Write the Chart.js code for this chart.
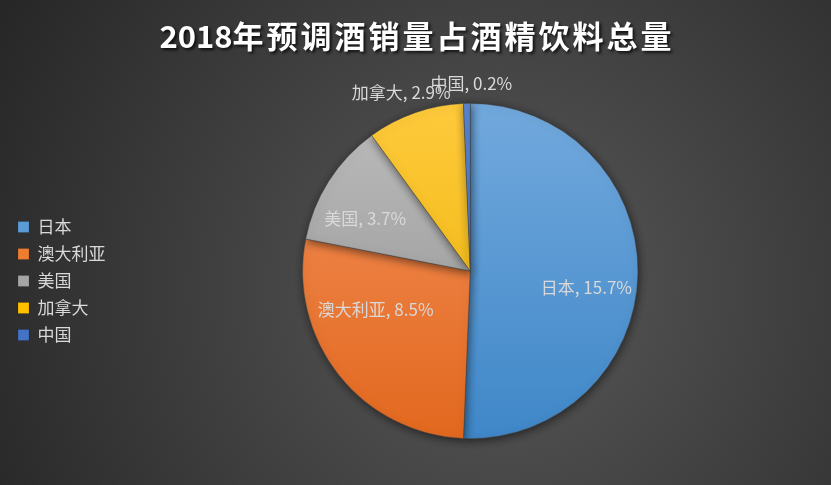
<!DOCTYPE html>
<html>
<head>
<meta charset="utf-8">
<script src="https://cdn.jsdelivr.net/npm/chart.js@4.4.1/dist/chart.umd.min.js"></script>
<style>
  html, body { margin: 0; padding: 0; background: #333; }
  #wrap { width: 831px; height: 485px; position: relative; }
</style>
</head>
<body>
<div id="wrap"><canvas id="c"></canvas></div>
<script>
// ---- data ----
const titleText = '2018年预调酒销量占酒精饮料总量';
const categories = ['日本', '澳大利亚', '美国', '加拿大', '中国'];
const shares = [15.7, 8.5, 3.7, 2.9, 0.2];
const valueLabels = ['15.7%', '8.5%', '3.7%', '2.9%', '0.2%'];

// ---- styles ----
const baseColors = ['#5B9BD5', '#ED7D31', '#A5A5A5', '#FFC000', '#4472C4'];
const topColors = ['#72A9DD', '#F4915C', '#BDBDBD', '#FFCA3C', '#5A86D0'];
const bottomColors = ['#3F87C8', '#E2681E', '#8E8E8E', '#E8B000', '#3A66B8'];
const labelNudgeDeg = [7, 16, -6, -2, 1.5];
const labelRadiusFactor = [0.70, 0.61, 0.70, 1.14, 1.12];
const FONT = '"Noto Sans CJK SC", "Noto Sans", sans-serif';

const bgPlugin = {
  id: 'bg',
  beforeDraw(chart) {
    const ctx = chart.ctx, w = chart.width, h = chart.height;
    ctx.save();
    const g = ctx.createRadialGradient(500, 290, 0, 500, 290, 580);
    g.addColorStop(0, '#595959');
    g.addColorStop(1, '#262626');
    ctx.fillStyle = g;
    ctx.fillRect(0, 0, w, h);
    ctx.restore();
  }
};

const titlePlugin = {
  id: 'customTitle',
  afterDraw(chart) {
    const ctx = chart.ctx;
    ctx.save();
    ctx.font = 'bold 31px ' + FONT;
    ctx.textBaseline = 'middle';
    const chars = Array.from(titleText);
    const spacingFor = ch => (/[0-9]/.test(ch) ? 0 : 3);
    const widths = chars.map(ch => ctx.measureText(ch).width);
    let total = 0;
    chars.forEach((ch, i) => { total += widths[i] + (i < chars.length - 1 ? spacingFor(ch) : 0); });
    let x = chart.width / 2 - total / 2;
    ctx.shadowColor = 'rgba(0,0,0,0.75)';
    ctx.shadowBlur = 3;
    ctx.shadowOffsetX = 2;
    ctx.shadowOffsetY = 2;
    ctx.fillStyle = '#ffffff';
    chars.forEach((ch, i) => {
      ctx.fillText(ch, x, 36);
      x += widths[i] + spacingFor(ch);
    });
    ctx.restore();
  }
};

const shadowPlugin = {
  id: 'pieShadow',
  beforeDatasetsDraw(chart) {
    const ctx = chart.ctx;
    ctx.save();
    ctx.shadowColor = 'rgba(0,0,0,0.55)';
    ctx.shadowBlur = 10;
    ctx.shadowOffsetX = 1;
    ctx.shadowOffsetY = 2;
  },
  afterDatasetsDraw(chart) {
    chart.ctx.restore();
  }
};

const labelPlugin = {
  id: 'sliceLabels',
  afterDatasetsDraw(chart) {
    const ctx = chart.ctx;
    const meta = chart.getDatasetMeta(0);
    ctx.save();
    ctx.font = '17px ' + FONT;
    ctx.fillStyle = '#D9D9D9';
    ctx.textAlign = 'center';
    ctx.textBaseline = 'middle';
    meta.data.forEach((arc, i) => {
      const p = arc.getProps(['x', 'y', 'startAngle', 'endAngle', 'outerRadius'], true);
      const a = (p.startAngle + p.endAngle) / 2 + labelNudgeDeg[i] * Math.PI / 180;
      const r = p.outerRadius * labelRadiusFactor[i];
      const x = p.x + Math.cos(a) * r;
      const y = p.y + Math.sin(a) * r;
      ctx.fillText(categories[i] + ', ' + valueLabels[i], x, y);
    });
    ctx.restore();
  }
};

function sliceGradient(ctx) {
  const chart = ctx.chart;
  const i = ctx.dataIndex;
  const area = chart.chartArea;
  if (!area) return baseColors[i];
  const g = chart.ctx.createLinearGradient(0, area.top, 0, area.bottom);
  g.addColorStop(0, topColors[i]);
  g.addColorStop(1, bottomColors[i]);
  return g;
}

new Chart(document.getElementById('c'), {
  type: 'pie',
  data: {
    labels: categories,
    datasets: [{
      data: shares,
      backgroundColor: sliceGradient,
      borderColor: 'rgba(70,70,70,0.6)',
      borderWidth: 0.75
    }]
  },
  options: {
    responsive: true,
    maintainAspectRatio: false,
    animation: false,
    layout: { padding: { top: 103, bottom: 46, left: 8, right: 6 } },
    plugins: {
      title: { display: false },
      tooltip: { enabled: false },
      legend: {
        position: 'left',
        align: 'center',
        title: { display: true, text: '', font: { size: 1, lineHeight: 1 }, padding: { top: 10, bottom: 9 } },
        labels: {
          boxWidth: 11,
          boxHeight: 11,
          padding: 10,
          color: '#D9D9D9',
          font: { size: 17, family: FONT },
          generateLabels(chart) {
            return chart.data.labels.map((l, i) => ({
              text: l,
              fillStyle: baseColors[i],
              strokeStyle: 'rgba(0,0,0,0.25)',
              lineWidth: 0.5,
              hidden: false,
              index: i,
              fontColor: '#D9D9D9'
            }));
          }
        }
      }
    }
  },
  plugins: [bgPlugin, shadowPlugin, labelPlugin, titlePlugin]
});
</script>
</body>
</html>
